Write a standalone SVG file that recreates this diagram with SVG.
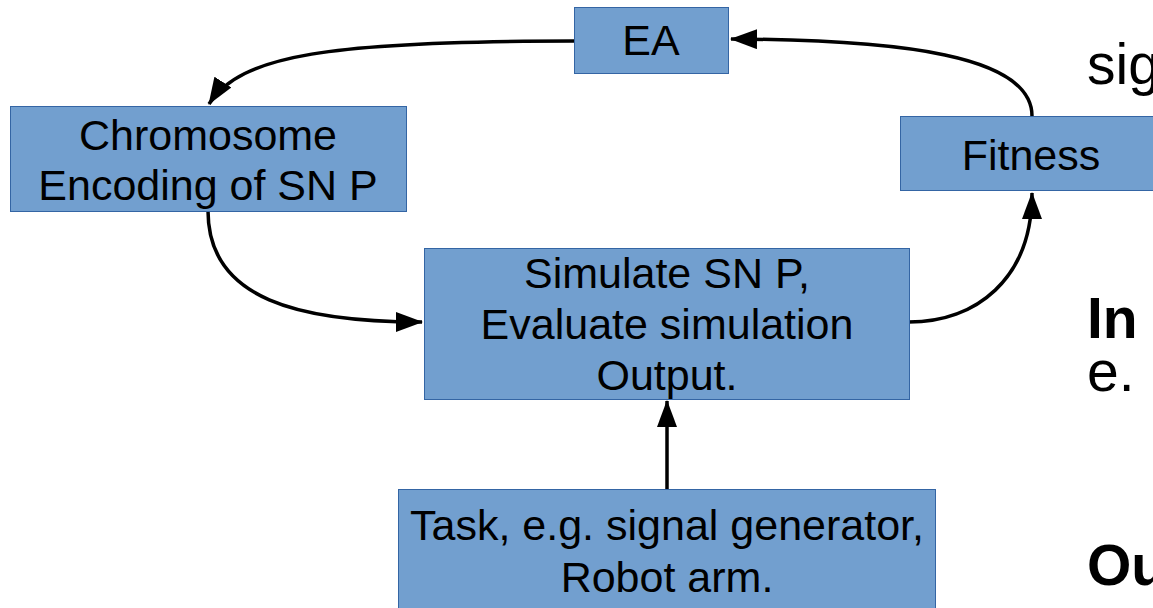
<svg xmlns="http://www.w3.org/2000/svg" width="1153" height="608" viewBox="0 0 1153 608">
  <style>
    .box { fill: #729fcf; stroke: #3465a4; stroke-width: 1; }
    .lbl { font-family: "Liberation Sans", Arial, sans-serif; font-size: 43px; fill: #000; text-anchor: middle; }
    .side { font-family: "Liberation Sans", Arial, sans-serif; font-size: 57px; fill: #000; }
    .bold { font-weight: bold; }
    .conn { fill: none; stroke: #000; stroke-width: 3.5; }
  </style>
  <defs>
    <marker id="arrow" markerUnits="userSpaceOnUse" markerWidth="27" markerHeight="20" viewBox="0 0 27 20" refX="26" refY="10" orient="auto">
      <path d="M0,0 L27,10 L0,20 z" fill="#000"/>
    </marker>
  </defs>
  <rect width="1153" height="608" fill="#fff"/>

  <g id="connectors">
    <path class="conn" d="M574,41 C330,41 240,55 209,104" marker-end="url(#arrow)"/>
    <path class="conn" d="M1032,116 C1032,55 900,40 731,39" marker-end="url(#arrow)"/>
    <path class="conn" d="M208,211 C208,300 300,322 422,322" marker-end="url(#arrow)"/>
    <path class="conn" d="M909,322 C975,322 1032,280 1032,193" marker-end="url(#arrow)"/>
    <path class="conn" d="M667,489 L667,401" marker-end="url(#arrow)"/>
  </g>

  <g id="node-ea">
    <rect class="box" x="574.5" y="7.5" width="154" height="66"/>
    <text class="lbl" x="651" y="55">EA</text>
  </g>
  <g id="node-chromosome">
    <rect class="box" x="10.5" y="106.5" width="396" height="105"/>
    <text class="lbl" x="208" y="150">Chromosome</text>
    <text class="lbl" x="208" y="200">Encoding of SN P</text>
  </g>
  <g id="node-fitness">
    <rect class="box" x="900.5" y="116.5" width="262" height="74"/>
    <text class="lbl" x="1031" y="170">Fitness</text>
  </g>
  <g id="node-simulate">
    <rect class="box" x="424.5" y="248.5" width="485" height="151"/>
    <text class="lbl" x="667" y="288">Simulate SN P,</text>
    <text class="lbl" x="667" y="339">Evaluate simulation</text>
    <text class="lbl" x="667" y="390">Output.</text>
  </g>
  <g id="node-task">
    <rect class="box" x="398.5" y="489.5" width="537" height="130"/>
    <text class="lbl" x="667" y="540">Task, e.g. signal generator,</text>
    <text class="lbl" x="667" y="592">Robot arm.</text>
  </g>

  <g id="side-text">
    <text class="side" x="1087" y="84">sig</text>
    <text class="side bold" x="1087" y="338">In</text>
    <text class="side" x="1087" y="391">e.</text>
    <text class="side bold" x="1087" y="585">Ou</text>
  </g>
</svg>
